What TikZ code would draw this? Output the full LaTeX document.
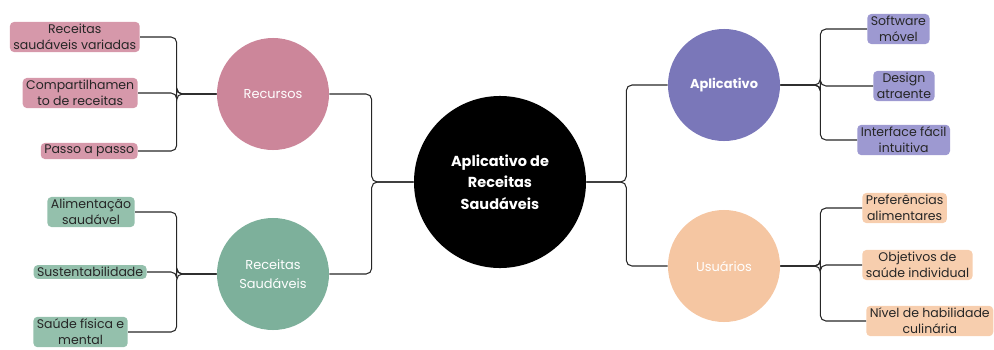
\documentclass[tikz,border=0pt]{standalone}
\usepackage{fontspec}
\setmainfont{Poppins}
\usepackage{xcolor}
\usetikzlibrary{positioning}
\definecolor{inkc}{RGB}{38,38,38}
\definecolor{rosec}{RGB}{204,134,154}
\definecolor{rosel}{RGB}{214,152,170}
\definecolor{sagec}{RGB}{125,176,155}
\definecolor{sagel}{RGB}{148,192,172}
\definecolor{lilac}{RGB}{122,119,185}
\definecolor{lilacl}{RGB}{157,153,209}
\definecolor{peachc}{RGB}{245,198,162}
\definecolor{peachl}{RGB}{247,206,174}

\begin{document}
\begin{tikzpicture}[x=0.025cm, y=-0.025cm,
    hub/.style={circle, minimum size=2.8cm, inner sep=0pt, align=center,
      text=white, font=\fontsize{9.2}{13.5}\selectfont},
    core/.style={circle, fill=black, minimum size=4.3cm, inner sep=0pt,
      align=center, text=white, font=\bfseries\fontsize{10.3}{15.2}\selectfont},
    leaf/.style={rounded corners=3pt, inner xsep=2.5pt, inner ysep=1.5pt,
      align=center, text=inkc, font=\fontsize{8.9}{11.6}\selectfont},
    link/.style={draw=inkc, line width=0.75pt, rounded corners=4pt}]
  \useasboundingbox (0,0) rectangle (994,349);
  % centre and the four topics
  \node[core] (core) at (500,182) {Aplicativo de\\Receitas\\Saudáveis};
  \node[hub, fill=rosec] (recur) at (273,94) {Recursos};
  \node[hub, fill=sagec] (heal) at (273,274) {Receitas\\Saudáveis};
  \node[hub, fill=lilac, font=\bfseries\fontsize{9.2}{13.5}\selectfont] (app) at (724,85) {Aplicativo};
  \node[hub, fill=peachc] (user) at (724,266) {Usuários};
  \draw[link] (core.west) -- ++(-42,0) |- (recur.east);
  \draw[link] (core.west) -- ++(-42,0) |- (heal.east);
  \draw[link] (core.east) -- ++(40,0) |- (app.west);
  \draw[link] (core.east) -- ++(40,0) |- (user.west);
  % leaves on the left
  \foreach \t/\x/\y [count=\i] in {
      {Receitas\\saudáveis variadas}/140/37,
      {Compartilhamen\\to de receitas}/138/93,
      {Passo a passo}/138/151} {
    \node[leaf, fill=rosel, anchor=east] (rec\i) at (\x,\y) {\t};
    \draw[link] (recur.west) -- ++(-40,0) |- (rec\i.east);
  }
  \foreach \t/\x/\y [count=\i] in {
      {Alimentação\\saudável}/135/212,
      {Sustentabilidade}/147/272,
      {Saúde física e\\mental}/128/332} {
    \node[leaf, fill=sagel, anchor=east] (hea\i) at (\x,\y) {\t};
    \draw[link] (heal.west) -- ++(-40,0) |- (hea\i.east);
  }
  % leaves on the right
  \foreach \t/\x/\y [count=\i] in {
      {Software\\móvel}/867/29,
      {Design\\atraente}/873/86,
      {Interface fácil\\intuitiva}/857/140} {
    \node[leaf, fill=lilacl, anchor=west] (apl\i) at (\x,\y) {\t};
    \draw[link] (app.east) -- ++(40,0) |- (apl\i.west);
  }
  \foreach \t/\x/\y [count=\i] in {
      {Preferências\\alimentares}/862/208,
      {Objetivos de\\saúde individual}/862/265,
      {Nível de habilidade\\culinária}/866/321} {
    \node[leaf, fill=peachl, anchor=west] (usr\i) at (\x,\y) {\t};
    \draw[link] (user.east) -- ++(40,0) |- (usr\i.west);
  }
\end{tikzpicture}
\end{document}
